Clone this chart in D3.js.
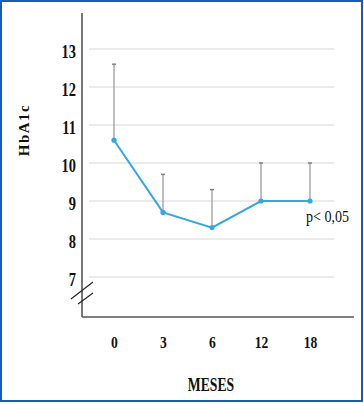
<!DOCTYPE html>
<html><head><meta charset="utf-8">
<script src="https://cdn.jsdelivr.net/npm/d3@7"></script>
<style>html,body{margin:0;padding:0;background:#fff;}svg{display:block;}</style>
</head><body>
<script>
const categories = ["0","3","6","12","18"];
const means = [10.6, 8.7, 8.3, 9.0, 9.0];
const upper = [12.6, 9.7, 9.3, 10.0, 10.0];
const yTicks = [7,8,9,10,11,12,13];
const xTitle = "MESES";
const yTitle = "HbA1c";
const pText = "p< 0,05";

const W = 364, H = 403;
const svg = d3.select("body").append("svg").attr("width", W).attr("height", H);
svg.append("rect").attr("width", W).attr("height", H).attr("fill", "#fff");
svg.append("rect").attr("x",1).attr("y",1).attr("width",W-3).attr("height",H-3)
  .attr("fill","none").attr("stroke","#1c5bb4").attr("stroke-width",2);

const x = d3.scalePoint().domain(categories).range([114, 310]);
const y = d3.scaleLinear().domain([7, 13]).range([277, 49]);
const font = "'Liberation Serif','Times New Roman',serif";

// gridlines
svg.append("g").selectAll("line").data(yTicks).join("line")
  .attr("x1", 89).attr("x2", 334).attr("y1", d => y(d)).attr("y2", d => y(d))
  .attr("stroke", "#e4e4e4").attr("stroke-width", 1.5);

// frame axes
svg.append("line").attr("x1",82).attr("x2",82).attr("y1",13).attr("y2",317)
  .attr("stroke","#555").attr("stroke-width",1.6);
svg.append("line").attr("x1",82).attr("x2",354).attr("y1",317).attr("y2",317)
  .attr("stroke","#555").attr("stroke-width",1.6);

// break marks
svg.append("line").attr("x1",71).attr("y1",299).attr("x2",93).attr("y2",282).attr("stroke","#222").attr("stroke-width",1.1);
svg.append("line").attr("x1",78).attr("y1",304).attr("x2",93).attr("y2",293).attr("stroke","#222").attr("stroke-width",1.1);

// y axis ticks
const ya = svg.append("g").attr("transform","translate(76,0)")
  .call(d3.axisLeft(y).tickValues(yTicks).tickSize(0).tickPadding(0).tickFormat(d3.format("d")));
ya.select(".domain").remove();
ya.selectAll("text").attr("font-family", font).attr("font-weight","bold").attr("font-size",19)
  .attr("fill","#111").attr("dy","0.45em").attr("transform","scale(0.76,1)");

// x axis ticks
const xa = svg.append("g").attr("transform","translate(0,317)")
  .call(d3.axisBottom(x).tickSize(0).tickPadding(0));
xa.select(".domain").remove();
xa.selectAll("text").attr("font-family", font).attr("font-weight","bold").attr("font-size",17)
  .attr("fill","#111").attr("y",0).attr("dy","31").attr("transform","scale(0.8,1)");

// error bars
const data = categories.map((c,i) => ({c, m: means[i], u: upper[i]}));
svg.append("g").selectAll("line").data(data).join("line")
  .attr("x1", d => x(d.c)).attr("x2", d => x(d.c))
  .attr("y1", d => y(d.m)).attr("y2", d => y(d.u))
  .attr("stroke", "#aaaaaa").attr("stroke-width", 1.5);
svg.append("g").selectAll("line").data(data).join("line")
  .attr("x1", d => x(d.c)-2).attr("x2", d => x(d.c)+2)
  .attr("y1", d => y(d.u)).attr("y2", d => y(d.u))
  .attr("stroke", "#808080").attr("stroke-width", 1.5);

// line
svg.append("path").datum(data)
  .attr("d", d3.line().x(d => x(d.c)).y(d => y(d.m)))
  .attr("fill","none").attr("stroke","#36a6e2").attr("stroke-width",2);
svg.append("g").selectAll("circle").data(data).join("circle")
  .attr("cx", d => x(d.c)).attr("cy", d => y(d.m)).attr("r", 2.6).attr("fill","#36a6e2");

// p value
svg.append("text").attr("transform","translate(306,222) scale(0.88,1)")
  .attr("font-family", font).attr("font-size",16).attr("fill","#111").text(pText);

// titles
svg.append("text").attr("transform","translate(211,391) scale(0.76,1)").attr("text-anchor","middle")
  .attr("font-family", font).attr("font-weight","bold").attr("font-size",18).attr("fill","#111").text(xTitle);
svg.append("text").attr("transform","translate(29,130) rotate(-90)").attr("text-anchor","middle")
  .attr("font-family", font).attr("font-weight","bold").attr("font-size",15).attr("letter-spacing",1.5)
  .attr("fill","#111").text(yTitle);
</script>
</body></html>
